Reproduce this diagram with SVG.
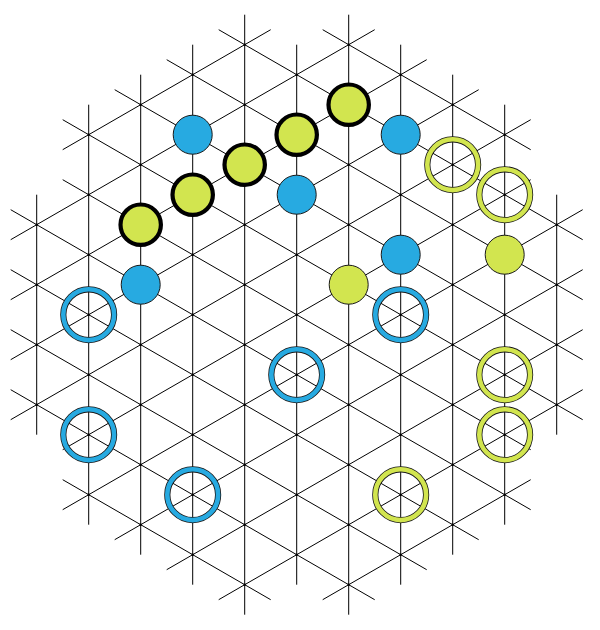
<svg xmlns="http://www.w3.org/2000/svg" width="600" height="630" viewBox="0 0 600 630">
<style>
.g line{stroke:#000;stroke-width:1}
.dots line{stroke:#000;stroke-width:2.4;stroke-linecap:round;stroke-dasharray:0 60}
.mb{fill:#27aae1;stroke:#1a1a1a;stroke-width:1}
.mg{fill:#d2e54f;stroke:#1a1a1a;stroke-width:1}
.mk{fill:#d2e54f;stroke:#000;stroke-width:4.2}
.ro{fill:none;stroke:#1a1a1a;stroke-width:6.2}
.rb{fill:none;stroke:#27aae1;stroke-width:4.6}
.rg{fill:none;stroke:#d2e54f;stroke-width:4.6}
</style>
<rect width="600" height="630" fill="#fff"/>
<g transform="translate(36.7,44.7)">
<g id="connectors" class="g">
<line x1="0" y1="150" x2="0" y2="390"/>
<line x1="52" y1="60" x2="52" y2="480"/>
<line x1="104" y1="30" x2="104" y2="510"/>
<line x1="156" y1="0" x2="156" y2="540"/>
<line x1="208" y1="-30" x2="208" y2="570"/>
<line x1="260" y1="0" x2="260" y2="540"/>
<line x1="312" y1="-30" x2="312" y2="570"/>
<line x1="364" y1="0" x2="364" y2="540"/>
<line x1="416" y1="30" x2="416" y2="510"/>
<line x1="468" y1="60" x2="468" y2="480"/>
<line x1="520" y1="150" x2="520" y2="390"/>
<line x1="286" y1="-15" x2="494" y2="105"/>
<line x1="182" y1="-15" x2="546" y2="195"/>
<line x1="130" y1="15" x2="546" y2="255"/>
<line x1="78" y1="45" x2="546" y2="315"/>
<line x1="26" y1="75" x2="546" y2="375"/>
<line x1="26" y1="135" x2="494" y2="405"/>
<line x1="-26" y1="165" x2="494" y2="465"/>
<line x1="-26" y1="225" x2="442" y2="495"/>
<line x1="-26" y1="285" x2="390" y2="525"/>
<line x1="-26" y1="345" x2="338" y2="555"/>
<line x1="26" y1="435" x2="234" y2="555"/>
<line x1="26" y1="105" x2="234" y2="-15"/>
<line x1="-26" y1="195" x2="338" y2="-15"/>
<line x1="-26" y1="255" x2="390" y2="15"/>
<line x1="-26" y1="315" x2="442" y2="45"/>
<line x1="-26" y1="375" x2="494" y2="75"/>
<line x1="26" y1="405" x2="494" y2="135"/>
<line x1="26" y1="465" x2="546" y2="165"/>
<line x1="78" y1="495" x2="546" y2="225"/>
<line x1="130" y1="525" x2="546" y2="285"/>
<line x1="182" y1="555" x2="546" y2="345"/>
<line x1="286" y1="555" x2="494" y2="435"/>
</g>
<g id="points" class="dots">
<line x1="0" y1="180" x2="0" y2="361"/>
<line x1="52" y1="90" x2="52" y2="451"/>
<line x1="104" y1="60" x2="104" y2="481"/>
<line x1="156" y1="30" x2="156" y2="511"/>
<line x1="208" y1="0" x2="208" y2="541"/>
<line x1="260" y1="30" x2="260" y2="511"/>
<line x1="312" y1="0" x2="312" y2="541"/>
<line x1="364" y1="30" x2="364" y2="511"/>
<line x1="416" y1="60" x2="416" y2="481"/>
<line x1="468" y1="90" x2="468" y2="451"/>
<line x1="520" y1="180" x2="520" y2="361"/>
</g>
<g id="marker-blue-1"><circle class="mb" cx="156" cy="90" r="19.5"/></g>
<g id="marker-blue-2"><circle class="mb" cx="260" cy="150" r="19.5"/></g>
<g id="marker-blue-3"><circle class="mb" cx="104" cy="240" r="19.5"/></g>
<g id="marker-blue-4"><circle class="mb" cx="364" cy="210" r="19.5"/></g>
<g id="marker-blue-5"><circle class="mb" cx="364" cy="90" r="19.5"/></g>
<g id="marker-green-1"><circle class="mg" cx="312" cy="240" r="19.5"/></g>
<g id="marker-green-2"><circle class="mg" cx="468" cy="210" r="19.5"/></g>
<g id="row-green-1"><circle class="mk" cx="312" cy="60" r="20.2"/></g>
<g id="row-green-2"><circle class="mk" cx="260" cy="90" r="20.2"/></g>
<g id="row-green-3"><circle class="mk" cx="208" cy="120" r="20.2"/></g>
<g id="row-green-4"><circle class="mk" cx="156" cy="150" r="20.2"/></g>
<g id="row-green-5"><circle class="mk" cx="104" cy="180" r="20.2"/></g>
<g id="ring-blue-1"><circle class="ro" cx="52" cy="270" r="25.4"/><circle class="rb" cx="52" cy="270" r="25.4"/></g>
<g id="ring-blue-2"><circle class="ro" cx="364" cy="270" r="25.4"/><circle class="rb" cx="364" cy="270" r="25.4"/></g>
<g id="ring-blue-3"><circle class="ro" cx="260" cy="330" r="25.4"/><circle class="rb" cx="260" cy="330" r="25.4"/></g>
<g id="ring-blue-4"><circle class="ro" cx="52" cy="390" r="25.4"/><circle class="rb" cx="52" cy="390" r="25.4"/></g>
<g id="ring-blue-5"><circle class="ro" cx="156" cy="450" r="25.4"/><circle class="rb" cx="156" cy="450" r="25.4"/></g>
<g id="ring-green-1"><circle class="ro" cx="416" cy="120" r="25.4"/><circle class="rg" cx="416" cy="120" r="25.4"/></g>
<g id="ring-green-2"><circle class="ro" cx="468" cy="150" r="25.4"/><circle class="rg" cx="468" cy="150" r="25.4"/></g>
<g id="ring-green-3"><circle class="ro" cx="468" cy="330" r="25.4"/><circle class="rg" cx="468" cy="330" r="25.4"/></g>
<g id="ring-green-4"><circle class="ro" cx="468" cy="390" r="25.4"/><circle class="rg" cx="468" cy="390" r="25.4"/></g>
<g id="ring-green-5"><circle class="ro" cx="364" cy="450" r="25.4"/><circle class="rg" cx="364" cy="450" r="25.4"/></g>
</g>
</svg>
